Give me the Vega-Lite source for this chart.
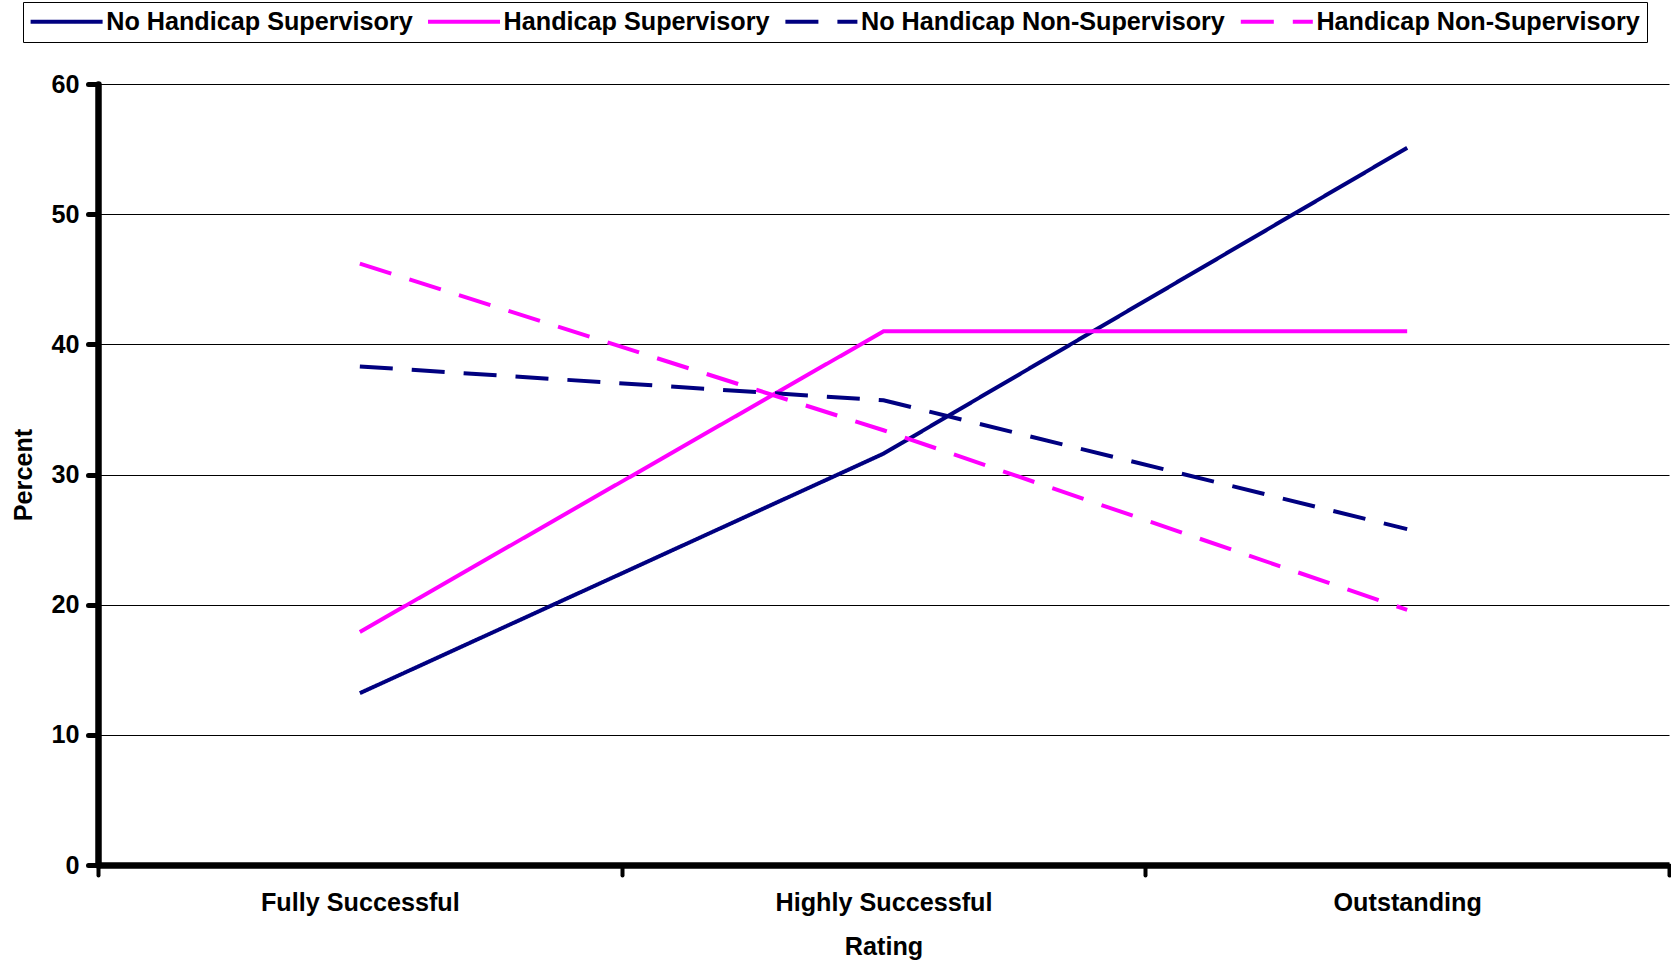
{
  "$schema": "https://vega.github.io/schema/vega-lite/v6.json",
  "width": 1571,
  "height": 781,
  "autosize": {"type": "none"},
  "padding": {"left": 98, "top": 84, "right": 2, "bottom": 99},
  "background": "white",
  "config": {
    "view": {"stroke": null},
    "font": "Liberation Sans",
    "axis": {
      "labelFont": "Liberation Sans",
      "labelFontWeight": "bold",
      "labelFontSize": 25.2,
      "labelColor": "black",
      "labelLimit": 0,
      "titleFont": "Liberation Sans",
      "titleFontWeight": "bold",
      "titleFontSize": 25.2,
      "titleColor": "black",
      "domainColor": "black",
      "tickColor": "black"
    },
    "legend": {
      "orient": "none",
      "legendX": -75,
      "legendY": -82,
      "direction": "horizontal",
      "columns": 4,
      "columnPadding": 6.4,
      "strokeColor": "black",
      "padding": 7,
      "symbolType": "M-1.2,0H6.0",
      "symbolSize": 400,
      "symbolStrokeWidth": 4,
      "symbolFillColor": "transparent",
      "labelOffset": 51,
      "labelFont": "Liberation Sans",
      "labelFontWeight": "bold",
      "labelFontSize": 25.2,
      "labelColor": "black",
      "labelLimit": 0
    }
  },
  "data": {
    "values": [
      {"rating": "Fully Successful", "series": "No Handicap Supervisory", "percent": 13.2},
      {"rating": "Highly Successful", "series": "No Handicap Supervisory", "percent": 31.6},
      {"rating": "Outstanding", "series": "No Handicap Supervisory", "percent": 55.1},
      {"rating": "Fully Successful", "series": "Handicap Supervisory", "percent": 17.9},
      {"rating": "Highly Successful", "series": "Handicap Supervisory", "percent": 41.0},
      {"rating": "Outstanding", "series": "Handicap Supervisory", "percent": 41.0},
      {"rating": "Fully Successful", "series": "No Handicap Non-Supervisory", "percent": 38.3},
      {"rating": "Highly Successful", "series": "No Handicap Non-Supervisory", "percent": 35.7},
      {"rating": "Outstanding", "series": "No Handicap Non-Supervisory", "percent": 25.8},
      {"rating": "Fully Successful", "series": "Handicap Non-Supervisory", "percent": 46.2},
      {"rating": "Highly Successful", "series": "Handicap Non-Supervisory", "percent": 33.4},
      {"rating": "Outstanding", "series": "Handicap Non-Supervisory", "percent": 19.6}
    ]
  },
  "mark": {"type": "line", "strokeWidth": 4},
  "encoding": {
    "x": {
      "field": "rating",
      "type": "nominal",
      "sort": ["Fully Successful", "Highly Successful", "Outstanding"],
      "bandPosition": 0.5,
      "scale": {"type": "band", "paddingInner": 0, "paddingOuter": 0},
      "axis": {
        "title": "Rating",
        "labelAngle": 0,
        "tickBand": "extent",
        "tickSize": 10,
        "tickWidth": 4,
        "tickCap": "round",
        "domainWidth": 6.5,
        "labelPadding": 15.6,
        "titlePadding": 19,
        "grid": false
      }
    },
    "y": {
      "field": "percent",
      "type": "quantitative",
      "scale": {"domain": [0, 60], "nice": false},
      "axis": {
        "title": "Percent",
        "values": [0, 10, 20, 30, 40, 50, 60],
        "tickSize": 10,
        "tickWidth": 5,
        "tickCap": "round",
        "domainWidth": 6.5,
        "domainCap": "round",
        "labelPadding": 9,
        "titlePadding": 14,
        "grid": true,
        "gridColor": "black",
        "gridWidth": 1
      }
    },
    "color": {
      "field": "series",
      "type": "nominal",
      "title": null,
      "scale": {
        "domain": ["No Handicap Supervisory", "Handicap Supervisory", "No Handicap Non-Supervisory", "Handicap Non-Supervisory"],
        "range": ["#000080", "#FF00FF", "#000080", "#FF00FF"]
      }
    },
    "strokeDash": {
      "field": "series",
      "type": "nominal",
      "title": null,
      "scale": {
        "domain": ["No Handicap Supervisory", "Handicap Supervisory", "No Handicap Non-Supervisory", "Handicap Non-Supervisory"],
        "range": [[1, 0], [1, 0], [33, 19], [33, 19]]
      }
    }
  }
}
